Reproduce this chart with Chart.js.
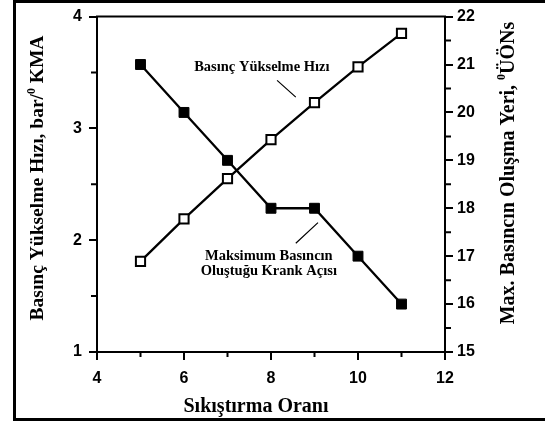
<!DOCTYPE html>
<html><head><meta charset="utf-8">
<script src="https://cdn.jsdelivr.net/npm/chart.js@4/dist/chart.umd.min.js"></script>
<style>html,body{margin:0;padding:0;background:#fff}#wrap{width:545px;height:423px;position:relative}</style>
</head><body><div id="wrap"><canvas id="c" width="545" height="423"></canvas></div>
<script>
// ---- data ----
const compressionRatio = [5, 6, 7, 8, 9, 10, 11];
const pressureRiseRate = [1.81, 2.19, 2.55, 2.90, 3.23, 3.55, 3.85];   // left axis, bar/°KMA
const maxPressureAngle = [21, 20, 19, 18, 18, 17, 16];                 // right axis, °ÜÖN
const xRange = [4, 12];
const leftRange = [1, 4];
const rightRange = [15, 22];
const xTitle = 'Sıkıştırma Oranı';
const leftTitle = [{t:'Basınç Yükselme Hızı, bar/'},{t:'0',sup:true},{t:' KMA'}];
const rightTitle = [{t:'Max. Basıncın Oluşma Yeri, '},{t:'0',sup:true},{t:'ÜÖNs'}];
const noteRise = ['Basınç Yükselme Hızı'];
const noteAngle = ['Maksimum Basıncın', 'Oluştuğu Krank Açısı'];

const SERIF = '"Liberation Serif","Times New Roman",serif';
const SANS = '"Liberation Sans",Arial,sans-serif';

function drawRich(ctx, parts, cx, cy, size){
  const f = s => `bold ${s}px ${SERIF}`;
  let total = 0;
  parts.forEach(p => { ctx.font = f(p.sup ? size*0.6 : size); p.w = ctx.measureText(p.t).width; total += p.w; });
  let x = cx - total/2;
  ctx.textBaseline = 'alphabetic'; ctx.textAlign = 'left';
  parts.forEach(p => {
    ctx.font = f(p.sup ? size*0.6 : size);
    ctx.fillText(p.t, x, cy + size*0.33 - (p.sup ? size*0.42 : 0));
    x += p.w;
  });
}

const decor = {
  id: 'decor',
  afterDraw(chart){
    const {ctx, chartArea:a, scales} = chart;
    const sx = scales.x, sy = scales.y, sr = scales.y1;
    ctx.save();
    ctx.fillStyle = '#000'; ctx.strokeStyle = '#000';
    // outer frame (right side falls outside the picture)
    ctx.fillRect(13, 0, 545-13, 3);
    ctx.fillRect(13, 0, 3, 421);
    ctx.fillRect(13, 418, 545-13, 3);
    // top edge of plot box
    ctx.lineWidth = 2;
    ctx.beginPath(); ctx.moveTo(a.left-1, a.top); ctx.lineTo(a.right+1, a.top); ctx.stroke();
    // minor ticks (shorter)
    ctx.beginPath();
    sx.ticks.forEach(t => { if (t.value % 2 !== 0) { const p = sx.getPixelForValue(t.value); ctx.moveTo(p, a.bottom); ctx.lineTo(p, a.bottom+5); }});
    sy.ticks.forEach(t => { if (!Number.isInteger(t.value)) { const p = sy.getPixelForValue(t.value); ctx.moveTo(a.left, p); ctx.lineTo(a.left-6, p); }});
    sr.ticks.forEach(t => { if (!Number.isInteger(t.value)) { const p = sr.getPixelForValue(t.value); ctx.moveTo(a.right, p); ctx.lineTo(a.right+6, p); }});
    ctx.stroke();
    // axis titles
    ctx.save(); ctx.translate(37, 178); ctx.rotate(-Math.PI/2); drawRich(ctx, leftTitle, 0, 0, 19.5); ctx.restore();
    ctx.save(); ctx.translate(507, 173); ctx.rotate(-Math.PI/2); drawRich(ctx, rightTitle, 0, 0, 20); ctx.restore();
    drawRich(ctx, [{t:xTitle}], 256, 405, 20);
    // annotations placed in data coordinates
    drawRich(ctx, [{t:noteRise[0]}], sx.getPixelForValue(7.79), sy.getPixelForValue(3.56), 14.5);
    drawRich(ctx, [{t:noteAngle[0]}], sx.getPixelForValue(7.95), sr.getPixelForValue(17.02), 14.5);
    drawRich(ctx, [{t:noteAngle[1]}], sx.getPixelForValue(7.95), sr.getPixelForValue(16.71), 14.5);
    ctx.lineWidth = 1.2;
    ctx.beginPath();
    ctx.moveTo(sx.getPixelForValue(8.14), sy.getPixelForValue(3.43));
    ctx.lineTo(sx.getPixelForValue(8.57), sy.getPixelForValue(3.28));
    ctx.moveTo(sx.getPixelForValue(8.57), sr.getPixelForValue(17.27));
    ctx.lineTo(sx.getPixelForValue(9.08), sr.getPixelForValue(17.70));
    ctx.stroke();
    ctx.restore();
  }
};

const tickFont = {family: SANS, size: 16, weight: 'bold'};
const gridMinorHidden = (isMajor) => ({
  drawOnChartArea: false, tickLength: 8, lineWidth: 2,
  color: c => (c.tick && isMajor(c.tick.value)) ? '#000' : 'rgba(0,0,0,0)'
});

new Chart(document.getElementById('c'), {
  type: 'line',
  data: {
    datasets: [
      {
        label: noteRise[0], yAxisID: 'y',
        data: compressionRatio.map((x, i) => ({x, y: pressureRiseRate[i]})),
        borderColor: '#000', borderWidth: 2.3, tension: 0,
        pointStyle: 'rect', pointRadius: 6.5, pointBorderWidth: 2,
        pointBackgroundColor: '#fff', pointBorderColor: '#000'
      },
      {
        label: noteAngle.join(' '), yAxisID: 'y1',
        data: compressionRatio.map((x, i) => ({x, y: maxPressureAngle[i]})),
        borderColor: '#000', borderWidth: 2.3, tension: 0,
        pointStyle: 'rect', pointRadius: 7, pointBorderWidth: 1,
        pointBackgroundColor: '#000', pointBorderColor: '#000'
      }
    ]
  },
  options: {
    responsive: false, animation: false, devicePixelRatio: 1,
    layout: {padding: {top: 13, left: 0, right: 0, bottom: 0}},
    plugins: {legend: {display: false}, tooltip: {enabled: false}},
    scales: {
      x: {
        type: 'linear', position: 'bottom', min: xRange[0], max: xRange[1],
        ticks: {stepSize: 1, autoSkip: false, maxRotation: 0, color: '#000', font: tickFont, padding: 9,
                callback: v => (v % 2 === 0 ? String(v) : '')},
        grid: gridMinorHidden(v => v % 2 === 0),
        border: {display: true, color: '#000', width: 2},
        afterFit: s => { s.height = 71; }
      },
      y: {
        type: 'linear', position: 'left', min: leftRange[0], max: leftRange[1],
        ticks: {stepSize: 0.5, autoSkip: false, color: '#000', font: tickFont, padding: 7,
                callback: v => (Number.isInteger(v) ? String(v) : '')},
        grid: gridMinorHidden(v => Number.isInteger(v)),
        border: {display: true, color: '#000', width: 2},
        afterFit: s => { s.width = 97; }
      },
      y1: {
        type: 'linear', position: 'right', min: rightRange[0], max: rightRange[1],
        ticks: {stepSize: 0.5, autoSkip: false, color: '#000', font: tickFont, padding: 4,
                callback: v => (Number.isInteger(v) ? String(v) : '')},
        grid: gridMinorHidden(v => Number.isInteger(v)),
        border: {display: true, color: '#000', width: 2},
        afterFit: s => { s.width = 100; }
      }
    }
  },
  plugins: [decor]
});
</script></body></html>
